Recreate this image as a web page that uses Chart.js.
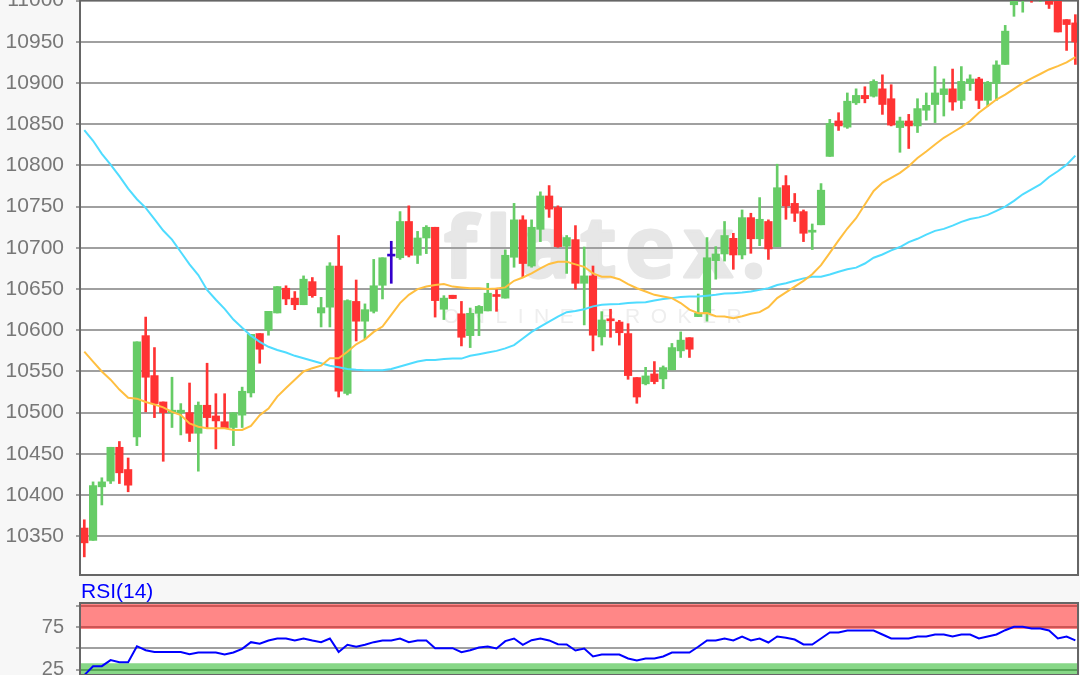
<!DOCTYPE html>
<html>
<head>
<meta charset="utf-8">
<title>flatex RSI chart</title>
<script src="https://cdn.jsdelivr.net/npm/chart.js@4/dist/chart.umd.min.js"></script>
<style>
  html, body { margin: 0; padding: 0; background: #f7f7f7; overflow: hidden; }
  #wrap { position: relative; width: 1080px; height: 675px; overflow: hidden; filter: blur(0.35px); }
  canvas { position: absolute; left: 0; }
  #main { top: 0; }
  #rsi { top: 600px; }
  #rsiTitle { position: absolute; left: 81px; top: 579px; font: 21px "Liberation Sans", Arial, sans-serif; color: #0000ff; }
</style>
</head>
<body>
<div id="wrap">
  <canvas id="main" width="1080" height="576"></canvas>
  <div id="rsiTitle">RSI(14)</div>
  <canvas id="rsi" width="1080" height="75"></canvas>
</div>
<script>
// values, one entry per candle
const opens = [10360,10345,10410,10417,10458,10431,10470.5,10593.5,10545,10513,10500,10500,10500,10475,10509,10496,10489,10482,10497,10524,
  10596,10600,10621,10651,10639,10631,10659,10621,10628,10678,10523.5,10635,10611,10623,10654.6,10690,10688,10732,10691,10712,
  10725,10625.5,10642.5,10620,10593.5,10620.6,10623.5,10642,10639,10688.6,10734,10678,10722.5,10763,10749,10702,10710,10657,10666,10592,
  10612,10610,10596,10542.6,10535,10547,10541,10552,10575,10591,10616.6,10620.6,10684.5,10692.6,10711.6,10691.4,10736.7,10711,10732,10701.5,
  10775.6,10754,10744,10719,10728,10811,10854,10846.5,10876,10885,10884,10893,10881,10846,10854,10848,10867,10874,10886,10893,
  10879,10899.5,10905,10879,10899.5,10922.6,10995,11005,11010,11001,11010,11000,10977,10973];
const closes = [10342,10411.5,10416,10458,10427,10412,10586,10543,10511,10500,10503,10503,10475,10509,10494,10490,10481,10500,10526,10595,
  10577,10623,10653,10638,10631,10662,10642,10627.5,10678,10526,10636,10611,10625,10654,10688,10690,10732,10691,10712,10725,
  10636,10639,10638.5,10591.5,10620.6,10629,10645,10641,10691,10734,10681,10725,10763,10747,10701.5,10712.5,10657,10666,10594,10612.5,
  10611.5,10597,10545,10519,10544.6,10537.7,10554.7,10579,10588,10577,10620.6,10688,10692.6,10715,10691.4,10736.7,10711,10734.7,10698.7,10773,
  10751,10742,10717.7,10719.5,10770,10851,10848,10878,10885,10881,10902,10874,10849,10854,10848,10869,10873,10888,10893,10877,
  10902,10905,10879,10901,10922,10963,11005,11010,11000,11010,10995.5,10962,10971,10950];
const highs = [10370,10416,10421,10458,10465,10445,10586,10616,10579,10513,10543,10511,10536,10513,10560,10523,10523,10500,10531,10595,
  10596,10623,10653,10654,10647,10666,10664,10640,10682,10715,10637,10661,10632,10686,10688,10708,10744,10751,10720,10727,
  10725,10642,10642.5,10635,10627,10630,10657,10651,10697.5,10754,10739,10734,10768,10775.6,10751,10715,10727,10701,10678,10622.6,
  10625.5,10612,10608,10542.6,10555,10562,10556.7,10584,10598,10591,10644,10712.5,10701.5,10732,10717.7,10746,10742,10761,10734,10801.5,
  10787.7,10766,10746,10729,10778,10856,10864,10888,10893,10895.5,10904,10910,10898,10858.7,10862,10881,10888,10920,10905,10917,
  10920,10910,10907,10902,10927,10970,11015,11020,11015,11020,11015,11000,10977,10983];
const lows = [10325,10345,10388,10414,10414,10404,10460,10501,10494,10441,10482,10473,10465,10429,10481,10456,10481,10460,10482,10519,
  10560,10594,10621,10631,10625,10631,10640,10604,10604,10519,10521.5,10587,10589.5,10621,10638,10657,10686,10689,10681,10693,
  10616,10613,10638.5,10581,10579,10593.5,10623.5,10623,10639,10676.5,10664,10676.5,10707.6,10737,10700.7,10669,10650,10606.5,10575,10582,
  10591.5,10582,10540.5,10511.4,10533.7,10535,10529,10552,10567,10567,10616.6,10611,10662,10684,10674,10686.6,10693.4,10702.7,10686,10701.5,
  10734.7,10732,10707.6,10698,10728,10811,10842.5,10845,10874,10876,10883,10862,10848,10816,10820.6,10840,10855,10852,10860,10867,
  10869,10891,10869,10872,10879,10922.6,10981,10986,10998,10999,10990.5,10962,10939.6,10922.6];

const maFast = [10574,10562,10550,10540,10528,10518,10517,10513,10510,10506.5,10501,10497,10487,10483,10481,10481,10481,10479,10479,10484,
  10497,10505,10519.5,10530,10540,10550,10554,10557,10566,10566,10574,10583,10589,10598,10604.5,10618.6,10633,10643,10650,10653,
  10655,10656,10653,10652,10651,10651,10650,10650.6,10652,10660,10664,10669,10675,10680.5,10683,10683,10680,10677,10669,10665,
  10665,10662,10656,10651,10647,10643,10641,10639,10633,10625,10620.6,10621,10617,10616.6,10614.6,10617,10620,10622,10628,10639,
  10646,10653,10660,10668,10679,10694,10709,10723.5,10736,10752.6,10769,10779,10785,10791,10799,10809,10817,10825.5,10833.6,10840,
  10846.5,10854,10864,10872,10880,10886,10893,10900,10905.6,10911,10916.5,10920.6,10925,10931.5];
const maSlow = [10843,10830,10814,10801,10787,10772,10759,10748.5,10735,10721,10710,10695,10680,10667,10649,10637,10626,10613,10603,10593.5,
  10586,10580,10576,10573,10569,10566,10563,10560,10557,10555,10553,10552,10551.5,10551.5,10551.5,10553,10556,10559,10562,10564,
  10564,10565,10565.6,10565.6,10569,10571,10573,10575,10578,10582,10590,10598,10604.5,10610.5,10616.6,10622,10623.5,10625.5,10629,10631,
  10631.6,10632,10633,10633.6,10634,10636,10638,10639,10640.5,10641,10641,10642,10643,10644.5,10645,10645.7,10647,10649,10651,10655,
  10657,10660,10663,10665,10665,10667.6,10671,10674,10676,10681,10688,10692,10697,10701,10707,10711,10716,10720.6,10723,10727,
  10731.5,10735,10737,10740,10745,10750,10757,10765,10771,10777,10786,10793,10801,10812];

const rsiValues = [18.8,29.3,29.3,36.4,34,34,52.7,48,46,46,46,46,43.4,45.3,45.3,45.3,43,45.3,49.6,57.4,
  55.5,59.4,61.7,61.7,59.4,61.7,59.4,57.4,61.7,46,54.3,52,54.3,57.4,59.4,59.4,61.7,57.4,59.4,59.4,
  50.4,50.4,50.4,45.7,48,51.2,52.3,50,58.6,61.7,54.3,59.7,61.7,59.4,55,54.7,47.7,50,
  40.6,43,43,43,38.3,36,38.3,38.3,40.6,45.3,45.3,45.3,52,59.4,59.4,61.7,59.4,64,59.4,61.7,
  57,64,62.5,60.5,54.7,54.7,61.7,68.7,68.7,71,71,71,71,66.4,61.7,61.7,61.7,64,64,66.4,
  66.4,64,66.4,66.4,61.7,64,66.4,71.4,75.3,75.3,73.4,73.4,71,61.7,64,59.4];
const rsiOverbought = 72.8;
const rsiOversold = 32.7;

const priceTicks = [10350,10400,10450,10500,10550,10600,10650,10700,10750,10800,10850,10900,10950,11000];
const rsiTicks = [25,50,75,100];
const rsiTickLabels = { 25: "25", 75: "75" };

const upColor = "#66cc66";
const downColor = "#ff3333";
const flatColor = "#3300cc";
const font = '"Liberation Sans", Arial, sans-serif';

const candleLabels = opens.map((_, i) => i);
const rsiLabels = rsiValues.map((_, i) => i);

// colour of candle i, green up, red down, blue when open equals close
function candleColor(ctx) {
  const i = ctx.dataIndex;
  if (closes[i] > opens[i]) return upColor;
  if (closes[i] < opens[i]) return downColor;
  return flatColor;
}

// white plot background, frame and the watermark
const framePlugin = {
  id: "frame",
  beforeDraw(chart, args, opts) {
    const { ctx, chartArea: a } = chart;
    ctx.save();
    ctx.fillStyle = "#ffffff";
    ctx.fillRect(a.left, a.top, a.right - a.left, a.bottom - a.top);
    if (opts.watermark) {
      ctx.fillStyle = "#e7e7e7";
      ctx.strokeStyle = "#e7e7e7";
      ctx.lineWidth = 3;
      ctx.lineJoin = "round";
      ctx.textBaseline = "alphabetic";
      ctx.font = 'bold 84px "Open Sans", sans-serif';
      ctx.letterSpacing = "9px";
      ctx.fillText("flatex.", 444, 277);
      ctx.strokeText("flatex.", 444, 277);
      ctx.fillStyle = "#eeeeee";
      ctx.font = '21px "Liberation Sans", sans-serif';
      ctx.letterSpacing = "10.5px";
      ctx.fillText("ONLINE BROKER", 443, 323);
    }
    ctx.restore();
  },
  afterDraw(chart) {
    const { ctx, chartArea: a } = chart;
    ctx.save();
    ctx.strokeStyle = "#666666";
    ctx.lineWidth = 2;
    ctx.strokeRect(a.left, a.top, a.right - a.left, a.bottom - a.top);
    ctx.restore();
  }
};
Chart.register(framePlugin);

// fixed axis width so the plot starts where the reference does
function fixYAxis(scale) {
  scale.width = 80;
  scale.paddingTop = 0;
  scale.paddingBottom = 0;
}

new Chart(document.getElementById("main"), {
  type: "bar",
  data: {
    labels: candleLabels,
    datasets: [
      {
        type: "line",
        data: maFast,
        borderColor: "#ffbf40",
        borderWidth: 2,
        pointRadius: 0,
        tension: 0,
        order: 0
      },
      {
        type: "line",
        data: maSlow,
        borderColor: "#4fdcff",
        borderWidth: 2,
        pointRadius: 0,
        tension: 0,
        order: 0
      },
      {
        data: opens.map((o, i) => [o, closes[i]]),
        backgroundColor: candleColor,
        barThickness: 7.5,
        minBarLength: 2,
        grouped: false,
        order: 1
      },
      {
        data: lows.map((l, i) => [l, highs[i]]),
        backgroundColor: candleColor,
        barThickness: 2,
        grouped: false,
        order: 2
      }
    ]
  },
  options: {
    responsive: false,
    devicePixelRatio: 1,
    animation: false,
    layout: { padding: { top: 0, right: 2, bottom: 1, left: 0 } },
    plugins: {
      legend: { display: false },
      tooltip: { enabled: false },
      frame: { watermark: true }
    },
    scales: {
      x: { type: "linear", offset: false, display: false, min: -0.49, max: 113.3 },
      y: {
        min: 10303,
        max: 11000.8,
        afterFit: fixYAxis,
        afterBuildTicks: (scale) => { scale.ticks = priceTicks.map((value) => ({ value })); },
        border: { display: false },
        grid: { color: "#a0a0a0", lineWidth: 2, tickLength: 4 },
        ticks: {
          autoSkip: false,
          padding: 12,
          color: "#777777",
          font: { family: font, size: 21 },
          callback: (v) => String(v)
        }
      }
    }
  }
});

new Chart(document.getElementById("rsi"), {
  type: "line",
  data: {
    labels: rsiLabels,
    datasets: [
      {
        data: rsiValues,
        borderColor: "#0000ff",
        borderWidth: 2,
        pointRadius: 0,
        tension: 0,
        order: 0
      },
      {
        data: [{ x: -1, y: rsiOverbought }, { x: 120, y: rsiOverbought }],
        borderWidth: 0,
        pointRadius: 0,
        backgroundColor: "rgba(255,0,0,0.47)",
        fill: "end",
        order: 1
      },
      {
        data: [{ x: -1, y: rsiOversold }, { x: 120, y: rsiOversold }],
        borderWidth: 0,
        pointRadius: 0,
        backgroundColor: "rgba(0,170,0,0.47)",
        fill: "start",
        order: 1
      }
    ]
  },
  options: {
    responsive: false,
    devicePixelRatio: 1,
    animation: false,
    layout: { padding: { top: 3, right: 2, bottom: 0, left: 0 } },
    plugins: {
      legend: { display: false },
      tooltip: { enabled: false }
    },
    scales: {
      x: { type: "linear", display: false, min: -0.49, max: 113.3 },
      y: {
        min: 19,
        max: 103.2,
        afterFit: fixYAxis,
        afterBuildTicks: (scale) => { scale.ticks = rsiTicks.map((value) => ({ value })); },
        border: { display: false },
        grid: { color: "#a0a0a0", lineWidth: 2, tickLength: 4 },
        ticks: {
          autoSkip: false,
          padding: 12,
          color: "#777777",
          font: { family: font, size: 20 },
          callback: (v) => rsiTickLabels[v] || ""
        }
      }
    }
  }
});
</script>
</body>
</html>
